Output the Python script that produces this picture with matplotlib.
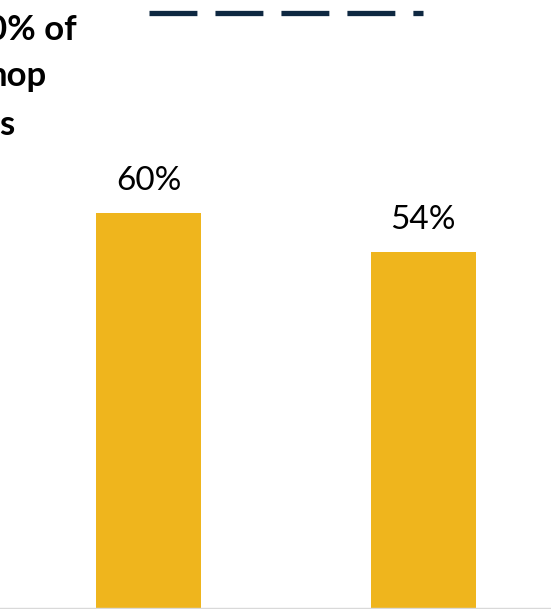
import matplotlib.pyplot as plt

plt.rcParams['font.family'] = ['Lato', 'DejaVu Sans']
plt.rcParams['lines.scale_dashes'] = False

categories = ['A', 'B']
values = [60, 54]
value_labels = ['60%', '54%']
target = 90.3
title_lines = ['0% of', 'hop', 's']

W, H = 551, 609
fig = plt.figure(figsize=(W / 100, H / 100), dpi=100)
bottom = 1.5 / H
ax = fig.add_axes([0, bottom, 1, 1 - bottom])

x = [0, 1]
ax.bar(x, values, width=0.3825, color='#EFB51D')
for xi, v, lab in zip(x, values, value_labels):
    ax.annotate(lab, (xi, v), xytext=(0, 16.5), textcoords='offset points',
                ha='center', va='baseline', fontsize=24, color='black')

# dashed target line between the bars
ax.plot(x, [target, target], color='#0E2841', lw=3.8,
        dashes=(34.5, 13), solid_capstyle='butt', dash_capstyle='butt')

ax.set_xlim(-0.541, 1.466)
ax.set_ylim(0, 92.3)
for s in ['top', 'left', 'right']:
    ax.spines[s].set_visible(False)
ax.spines['bottom'].set_color('#D9D9D9')
ax.spines['bottom'].set_linewidth(1)
ax.set_xticks([])
ax.set_yticks([])

# cropped title text on the left
right_edges = [77, 47, 14]
baselines = [40, 86, 135]
for line, xr, yb in zip(title_lines, right_edges, baselines):
    fig.text(xr / W, 1 - yb / H, line, ha='right', va='baseline',
             fontsize=25, fontweight='bold', color='black')

plt.savefig('out.png', dpi=100)
